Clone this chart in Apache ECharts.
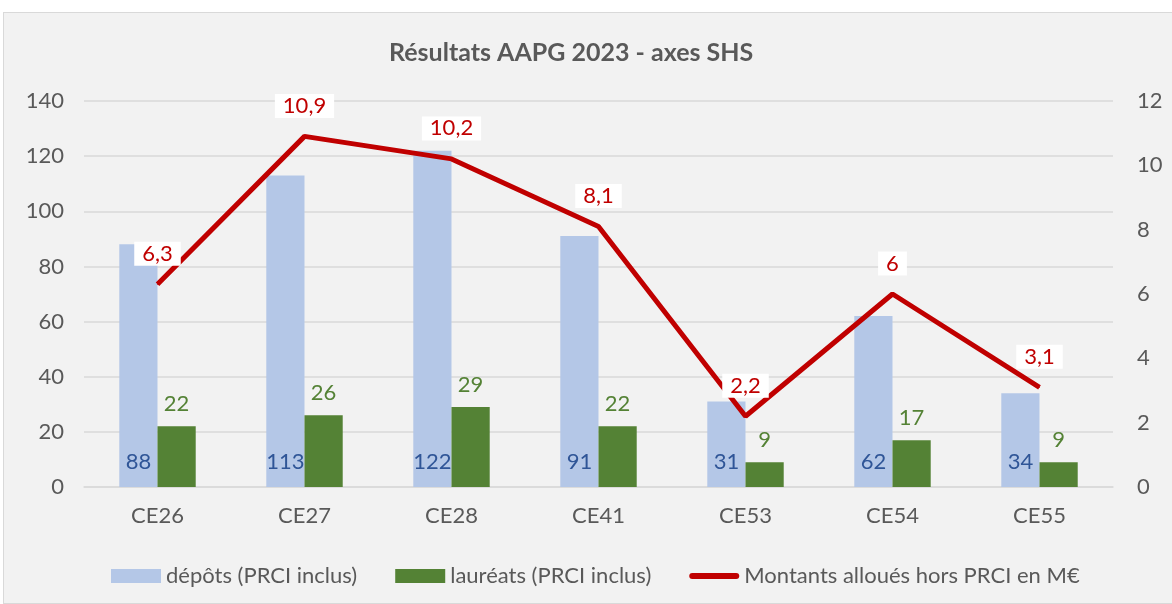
<!DOCTYPE html>
<html>
<head>
<meta charset="utf-8">
<script src="https://cdn.jsdelivr.net/npm/echarts@6/dist/echarts.min.js"></script>
<style>
  html, body { margin: 0; padding: 0; background: #ffffff; overflow: hidden; }
  #chart {
    position: absolute; left: 3px; top: 12px;
    width: 1172px; height: 592px;
    background: #f2f2f2;
    border: 1px solid #d9d9d9; box-sizing: border-box;
  }
</style>
</head>
<body>
<div id="chart"></div>
<script>
// données du graphique
const categories = ['CE26', 'CE27', 'CE28', 'CE41', 'CE53', 'CE54', 'CE55']
const depots = [88, 113, 122, 91, 31, 62, 34]
const laureats = [22, 26, 29, 22, 9, 17, 9]
const montants = [6.3, 10.9, 10.2, 8.1, 2.2, 6, 3.1]

const font = 'Lato, "Open Sans", sans-serif'
const grey = '#595959'

const chart = echarts.init(document.getElementById('chart'))

chart.setOption({
  animation: false,
  textStyle: { fontFamily: font },
  title: {
    text: 'Résultats AAPG 2023 - axes SHS',
    left: 380,
    top: 22,
    textStyle: { fontSize: 25, fontWeight: 'bold', color: grey, fontFamily: font },
  },
  grid: { left: 80, right: 61, top: 88, bottom: 116 },
  legend: {
    left: 102,
    top: 547,
    itemWidth: 50,
    itemHeight: 14,
    itemGap: 38,
    textStyle: { fontSize: 22, color: grey, fontFamily: font },
    data: [
      { name: 'dépôts (PRCI inclus)', icon: 'rect' },
      { name: 'lauréats (PRCI inclus)', icon: 'rect' },
      {
        name: 'Montants alloués hors PRCI en M€',
        icon: 'path://M3,0 L47,0 A3,3 0 0 1 47,6 L3,6 A3,3 0 0 1 3,0 Z',
      },
    ],
  },
  xAxis: {
    type: 'category',
    data: categories,
    axisTick: { show: false },
    axisLine: { lineStyle: { color: '#d9d9d9', width: 1.5 } },
    axisLabel: { fontSize: 22, color: grey, margin: 18 },
  },
  yAxis: [
    {
      type: 'value',
      min: 0, max: 140, interval: 20,
      axisLine: { show: false },
      axisTick: { show: false },
      splitLine: { lineStyle: { color: '#d9d9d9', width: 1.5 } },
      axisLabel: { fontSize: 22, color: grey, margin: 20 },
    },
    {
      type: 'value',
      min: 0, max: 12, interval: 2,
      axisLine: { show: false },
      axisTick: { show: false },
      splitLine: { show: false },
      axisLabel: { fontSize: 22, color: grey, margin: 24 },
    },
  ],
  series: [
    {
      name: 'dépôts (PRCI inclus)',
      type: 'bar',
      data: depots,
      barGap: '0%',
      barCategoryGap: '48%',
      itemStyle: { color: '#b4c7e7' },
      label: {
        show: true,
        position: 'insideBottom',
        distance: 14,
        fontSize: 22,
        color: '#2f5597',
        fontFamily: font,
      },
    },
    {
      name: 'lauréats (PRCI inclus)',
      type: 'bar',
      data: laureats,
      itemStyle: { color: '#548235' },
      label: {
        show: true,
        position: 'top',
        distance: 11,
        fontSize: 22,
        color: '#548235',
        fontFamily: font,
      },
    },
    {
      name: 'Montants alloués hors PRCI en M€',
      type: 'line',
      yAxisIndex: 1,
      data: montants,
      symbol: 'circle',
      symbolSize: 1,
      showSymbol: true,
      z: 5,
      lineStyle: { color: '#c00000', width: 5 },
      itemStyle: { color: '#c00000' },
      label: {
        show: true,
        position: 'top',
        distance: 18,
        fontSize: 22,
        color: '#c00000',
        fontFamily: font,
        backgroundColor: '#ffffff',
        padding: [1, 8],
        formatter: (p) => String(p.value).replace('.', ','),
      },
    },
  ],
})
</script>
</body>
</html>
